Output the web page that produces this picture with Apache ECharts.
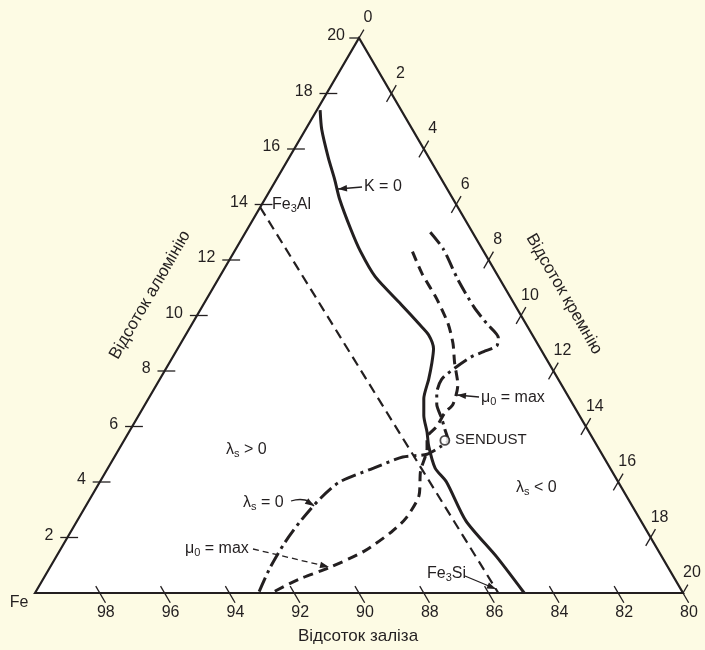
<!DOCTYPE html>
<html>
<head>
<meta charset="utf-8">
<script src="https://cdn.jsdelivr.net/npm/echarts@6/dist/echarts.min.js"></script>
<style>
  html, body { margin: 0; padding: 0; background: #fdfbe4; }
  #main { width: 705px; height: 650px; }
</style>
</head>
<body>
<div id="main"></div>
<script>
// tick labels of the three sides
const alTicks = [2, 4, 6, 8, 10, 12, 14, 16, 18, 20];
const siTicks = [0, 2, 4, 6, 8, 10, 12, 14, 16, 18, 20];
const feTicks = [98, 96, 94, 92, 90, 88, 86, 84, 82, 80];

// curves, each point is [Al %, Si %]
const kZero = [[17.4, 0.1], [16.7, 0.5], [15.7, 1.2], [14.9, 1.8], [14.2, 2.3], [13.1, 3.2], [12.3, 3.9],
  [11.4, 4.8], [10.4, 6.1], [9.7, 7.0], [9.3, 7.5], [8.8, 7.9], [8.3, 8.1], [7.7, 8.3], [7.0, 8.5],
  [6.4, 8.8], [5.8, 9.2], [5.3, 9.5], [4.5, 10.1], [4.0, 10.7], [2.6, 12.0], [1.3, 13.6], [0, 15.1]];
const mu0Max = [[12.3, 5.5], [11.5, 6.2], [10.6, 7.1], [9.7, 7.9], [9.0, 8.4], [8.3, 8.8], [7.5, 9.3],
  [6.8, 9.5], [6.5, 9.4], [6.0, 9.4], [5.6, 9.3], [5.2, 9.5], [4.4, 9.7], [3.5, 10.1], [2.7, 10.1],
  [2.2, 9.9], [1.5, 9.4], [0.9, 8.6], [0.5, 7.9], [0, 7.3]];
const lambda0 = [[13.0, 5.7], [12.4, 6.4], [11.3, 7.4], [10.3, 8.4], [9.7, 9.1], [9.2, 9.7], [8.9, 9.8],
  [8.7, 9.5], [8.5, 9.2], [8.1, 8.9], [7.7, 8.7], [7.2, 8.8], [6.8, 9.0], [6.3, 9.4], [5.9, 9.7],
  [5.5, 10.0], [5.3, 9.9], [5.0, 9.6], [4.9, 8.9], [4.5, 8.2], [4.0, 7.4], [3.4, 7.1], [2.6, 6.9],
  [1.8, 6.8], [0.9, 6.8], [0, 6.9]];
const fe3Line = [[13.9, 0], [0, 14.3]];   // Fe3Al - Fe3Si
const sendust = [5.5, 9.9];

const H = Math.sqrt(3) / 2;
const FONT = '"Liberation Sans Narrow", "Liberation Sans", Arial, sans-serif';
const INK = '#231f20';

// ternary (Al, Si) -> cartesian
function tern(al, si) {
  return [si + al / 2, al * H];
}

function tickSeries(values, seg, anchor, off, align) {
  return {
    type: 'custom',
    coordinateSystem: 'cartesian2d',
    silent: true,
    clip: false,
    z: 5,
    data: values.map(v => [v, 0]),
    renderItem: (params, api) => {
      const v = api.value(0);
      const s = seg(v);
      const p0 = api.coord(tern(s[0][0], s[0][1]));
      const p1 = api.coord(tern(s[1][0], s[1][1]));
      const a = anchor(v);
      const pa = api.coord(tern(a[0], a[1]));
      return {
        type: 'group',
        children: [
          { type: 'line', shape: { x1: p0[0], y1: p0[1], x2: p1[0], y2: p1[1] },
            style: { stroke: INK, lineWidth: 1.3 } },
          { type: 'text', x: pa[0] + off[0], y: pa[1] + off[1],
            style: { text: String(v), fill: INK, font: '16px ' + FONT, align: align, verticalAlign: 'middle' } }
        ]
      };
    }
  };
}

function curve(points, type, width) {
  return {
    type: 'line',
    data: points.map(p => tern(p[0], p[1])),
    showSymbol: false,
    symbol: 'none',
    smooth: 0.25,
    silent: true,
    clip: false,
    z: 3,
    lineStyle: { color: INK, width: width, type: type, cap: 'butt' }
  };
}

function arrow(x1, y1, x2, y2, dashed, mid) {
  const pts = mid ? [[x1, y1], mid, [x2, y2]] : [[x1, y1], [x2, y2]];
  const from = pts[pts.length - 2];
  const ang = Math.atan2(y2 - from[1], x2 - from[0]);
  const L = 9, W = 3.2;
  const bx = x2 - L * Math.cos(ang), by = y2 - L * Math.sin(ang);
  const nx = -Math.sin(ang) * W, ny = Math.cos(ang) * W;
  return [
    { type: 'polyline', shape: { points: pts, smooth: mid ? 0.5 : 0 }, z: 20,
      style: { stroke: INK, lineWidth: 1.3, fill: null, lineDash: dashed ? [6, 4] : null } },
    { type: 'polygon', shape: { points: [[x2, y2], [bx + nx, by + ny], [bx - nx, by - ny]] }, z: 20,
      style: { fill: INK } }
  ];
}

function label(x, y, text, align, size) {
  return {
    type: 'text', x: x, y: y, z: 20,
    style: {
      text: text, fill: INK, align: align || 'left', verticalAlign: 'middle',
      font: (size || 16) + 'px ' + FONT,
      rich: {
        n: { fontSize: size || 16, fontFamily: FONT, fill: INK, lineHeight: 18 },
        b: { fontSize: 11, fontFamily: FONT, fill: INK, lineHeight: 18, verticalAlign: 'bottom' }
      }
    }
  };
}

const chart = echarts.init(document.getElementById('main'));

chart.setOption({
  backgroundColor: '#fdfbe4',
  animation: false,
  grid: { left: 35, right: 22, top: 38, bottom: 57 },
  xAxis: { type: 'value', min: 0, max: 20, show: false },
  yAxis: { type: 'value', min: 0, max: 20 * H, show: false },
  series: [
    {
      type: 'custom',
      coordinateSystem: 'cartesian2d',
      silent: true,
      clip: false,
      z: 1,
      data: [[0, 0]],
      renderItem: (params, api) => {
        const pts = [tern(0, 0), tern(20, 0), tern(0, 20)].map(p => api.coord(p));
        return { type: 'polygon', shape: { points: pts },
          style: { fill: '#ffffff', stroke: INK, lineWidth: 2.2, lineJoin: 'miter' } };
      }
    },
    tickSeries(alTicks,
      v => v === 20 ? [[v, -0.3], [v, 0]] : [[v, -0.22], [v, 0.33]],
      v => [v, 0], [-14, -2], 'right'),
    tickSeries(siTicks,
      v => v === 0 ? [[20, 0], [20.3, 0]] : (v === 20 ? [[0, 20], [0.3, 20]] : [[19.7 - v, v], [20.3 - v, v]]),
      v => [20 - v, v], [9, -20], 'center'),
    tickSeries(feTicks,
      v => v === 80 ? [[-0.35, 20.35], [0, 20]] : [[-0.35, 100.35 - v], [0.25, 99.75 - v]],
      v => [0, 100 - v], [6, 20], 'center'),
    curve(fe3Line, [10, 6], 2.2),
    curve(kZero, 'solid', 3),
    curve(mu0Max, [10, 6], 3),
    curve(lambda0, [15, 5, 3, 5], 3),
    {
      type: 'scatter',
      data: [tern(sendust[0], sendust[1])],
      symbol: 'circle',
      symbolSize: 9,
      silent: true,
      z: 6,
      itemStyle: { color: '#ffffff', borderColor: INK, borderWidth: 1.8 }
    }
  ],
  graphic: [
    label(19, 603, 'Fe', 'center'),
    label(358, 636, 'Відсоток заліза', 'center', 17),
    Object.assign(label(150, 295, 'Відсоток алюмінію', 'center', 17), { rotation: Math.PI / 3 }),
    Object.assign(label(564, 294, 'Відсоток кремнію', 'center', 17), { rotation: -Math.PI / 3 }),
    label(272, 205, '{n|Fe}{b|3}{n|Al}'),
    label(364, 187, 'K = 0'),
    ...arrow(362, 187, 338, 189),
    label(481, 398, '{n|μ}{b|0}{n| = max}'),
    ...arrow(479, 397, 457, 395),
    label(455, 440, 'SENDUST', 'left', 15),
    label(226, 450, '{n|λ}{b|s}{n| > 0}'),
    label(516, 488, '{n|λ}{b|s}{n| < 0}'),
    label(243, 503, '{n|λ}{b|s}{n| = 0}'),
    ...arrow(291, 501, 314, 506, false, [305, 500]),
    label(185, 549, '{n|μ}{b|0}{n| = max}'),
    ...arrow(253, 549, 329, 567, true),
    label(427, 574, '{n|Fe}{b|3}{n|Si}'),
    ...arrow(465, 576, 496, 589)
  ]
});
</script>
</body>
</html>
